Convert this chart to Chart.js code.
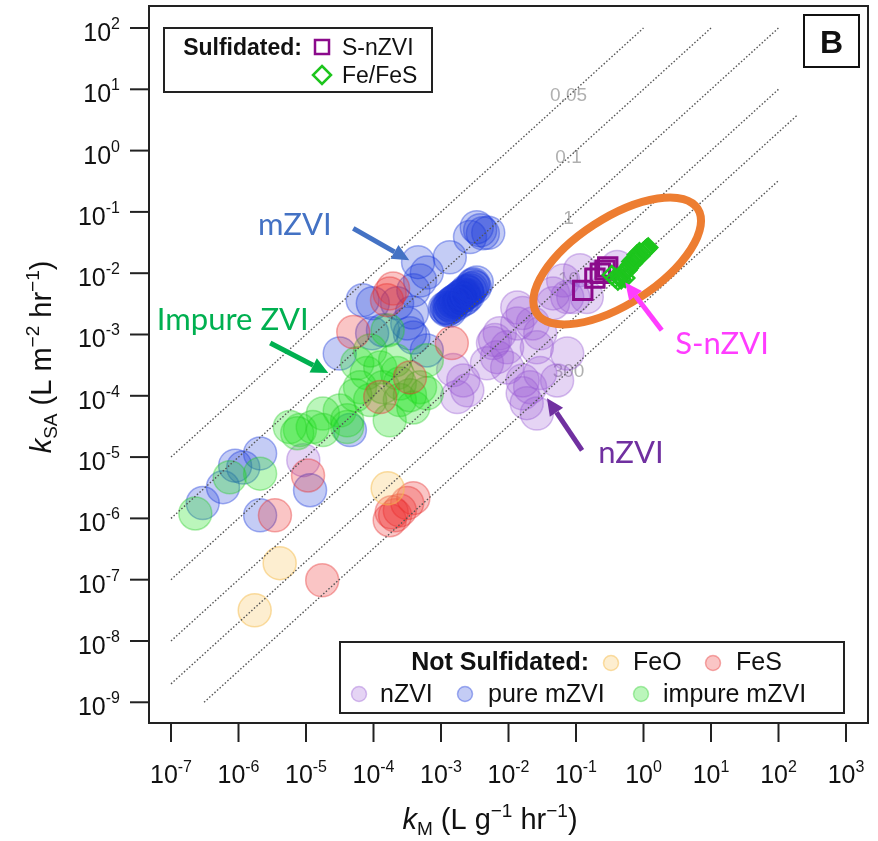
<!DOCTYPE html>
<html>
<head>
<meta charset="utf-8">
<script src="https://cdn.jsdelivr.net/npm/chart.js@4.4.1/dist/chart.umd.min.js"></script>
<style>
  html, body { margin: 0; padding: 0; background: #fff; }
  #wrap { width: 878px; height: 841px; }
</style>
</head>
<body>
<div id="wrap"><canvas id="chart" width="878" height="841"></canvas></div>
<script>
// all values are log10: [log kM (L g-1 hr-1), log kSA (L m-2 hr-1)]
const xTicks = [-7, -6, -5, -4, -3, -2, -1, 0, 1, 2, 3];
const yTicks = [-9, -8, -7, -6, -5, -4, -3, -2, -1, 0, 1, 2];

const nZVI = [
  [-5.04, -5.05], [-1.13, -2.39], [-1.34, -2.49], [-0.84, -2.39], [-1.79, -2.65], [-1.64, -2.82],
  [-1.53, -2.98], [-1.87, -2.82], [-2.13, -2.98], [-2.23, -3.14], [-2.02, -3.21], [-2.17, -3.37],
  [-2.32, -3.47], [-2.02, -3.54], [-1.58, -3.21], [-1.13, -3.31], [-2.67, -3.75], [-2.61, -3.91],
  [-2.82, -3.58], [-2.76, -4.02], [-1.79, -3.75], [-1.68, -3.86], [-1.79, -3.96], [-1.73, -4.12],
  [-1.58, -4.29], [-1.53, -3.63], [-1.28, -3.75], [-1.19, -2.12], [-0.94, -1.95], [-1.04, -2.39],
  [-1.34, -2.33], [-0.39, -1.90], [-1.87, -2.56], [-2.20, -3.09]
];
const pureMZVI = [
  [-2.47, -1.25], [-2.42, -1.30], [-2.38, -1.35], [-2.57, -1.41], [-2.30, -1.34], [-2.87, -1.74],
  [-3.34, -1.82], [-3.21, -1.99], [-3.31, -2.12], [-3.41, -2.28],
  [-2.91, -2.56], [-2.87, -2.52], [-2.82, -2.47], [-2.78, -2.44], [-2.72, -2.39], [-2.67, -2.36],
  [-2.61, -2.31], [-2.57, -2.28], [-2.53, -2.20], [-2.47, -2.15], [-2.87, -2.61], [-2.94, -2.57],
  [-2.64, -2.41], [-2.50, -2.23], [-2.89, -2.58], [-2.85, -2.50], [-2.80, -2.46], [-2.75, -2.42],
  [-2.70, -2.38], [-2.66, -2.34], [-2.62, -2.29], [-2.55, -2.25], [-2.52, -2.18], [-2.92, -2.60],
  [-2.84, -2.55], [-2.76, -2.49], [-2.68, -2.44], [-2.60, -2.36],
  [-4.01, -2.49], [-4.16, -2.44], [-3.65, -2.49], [-3.43, -2.64], [-3.50, -2.82], [-3.46, -2.98],
  [-4.02, -2.98], [-3.86, -2.93], [-3.41, -3.05], [-3.21, -3.26], [-4.50, -3.31], [-4.35, -4.56],
  [-5.68, -4.94], [-6.05, -5.14], [-5.93, -5.17], [-6.23, -5.49], [-6.53, -5.75], [-5.68, -5.95],
  [-4.94, -5.54]
];
const impureMZVI = [
  [-3.79, -2.93], [-4.24, -3.47], [-4.10, -3.63], [-3.90, -3.54], [-3.65, -3.63], [-4.20, -3.86],
  [-3.86, -3.86], [-3.61, -3.80], [-3.31, -3.86], [-3.61, -4.07], [-4.50, -4.24], [-4.75, -4.29],
  [-5.09, -4.56], [-4.90, -4.51], [-4.39, -4.40], [-3.76, -4.40], [-3.41, -4.19], [-3.21, -3.96],
  [-3.21, -3.42], [-5.24, -4.51], [-5.13, -4.61], [-4.75, -4.56], [-4.39, -4.51], [-5.68, -5.27],
  [-6.13, -5.33], [-6.64, -5.92], [-4.05, -3.26], [-3.68, -3.42], [-3.46, -3.99], [-4.05, -4.07],
  [-4.27, -3.99]
];
const feS = [
  [-3.80, -2.44], [-3.76, -2.33], [-3.71, -2.25], [-4.30, -2.96], [-2.84, -3.14], [-3.46, -3.70],
  [-3.90, -4.02], [-5.46, -5.95], [-4.97, -5.30], [-4.76, -7.01], [-3.41, -5.67], [-3.50, -5.75],
  [-3.61, -5.87], [-3.68, -5.95], [-3.76, -6.03], [-3.73, -5.90]
];
const feO = [[-3.79, -5.51], [-5.39, -6.73], [-5.76, -7.50]];
const sNZVI = [[-0.90, -2.28], [-0.72, -2.08], [-0.64, -2.00], [-0.57, -1.95], [-0.53, -1.90]];
const feFeS = [
  [-0.47, -2.03], [-0.38, -2.12], [-0.35, -2.05], [-0.30, -2.00], [-0.24, -1.95], [-0.20, -1.87],
  [-0.13, -1.79], [-0.10, -1.70], [-0.08, -1.74], [-0.02, -1.68], [0.02, -1.63], [0.04, -1.61],
  [0.07, -1.58], [-0.16, -1.84], [-0.27, -2.08], [-0.05, -1.72], [-0.42, -2.08], [-0.33, -2.10],
  [-0.28, -1.97], [-0.22, -1.92], [-0.18, -1.81], [-0.11, -1.76], [-0.06, -1.66], [0.00, -1.65],
  [0.05, -1.60], [-0.15, -1.78]
];

// dotted lines of constant kSA/kM (log offset), with their labels
const guideOffsets = [2, 1, 0, -1, -1.7, -2.49];
const guideStart = [-7, -7, -7, -7, -7, -6.51];
const guideEnd = [0, 1, 2, 2, 2.27, 2.01];
const guideLabels = ['0.05', '0.1', '1', '10', '', '300'];
const guideLabelX = -1.11;

// callouts
const calloutText = ['mZVI', 'Impure ZVI', 'S-nZVI', 'nZVI'];
const calloutColor = ['#4472C4', '#00B050', '#FF3DFF', '#7030A0'];
const calloutPos = [[-5.71, -1.38], [-7.21, -2.93], [0.47, -3.32], [-0.67, -5.10]];
const arrowFrom = [[-4.30, -1.27], [-5.53, -3.14], [0.27, -2.93], [-0.91, -4.89]];
const arrowTo = [[-3.47, -1.79], [-4.67, -3.63], [-0.27, -2.15], [-1.43, -4.04]];
const ellipseCenter = [-0.39, -1.80];

const SANS = '"Liberation Sans", Arial, sans-serif';
const CALLOUT = 'Lato, "Open Sans", sans-serif';

const FEO_FILL = 'rgba(250,200,100,0.3)', FEO_LINE = 'rgba(245,190,80,0.5)';
const FES_FILL = 'rgba(235,40,40,0.27)', FES_LINE = 'rgba(230,50,50,0.4)';
const IMP_FILL = 'rgba(30,225,30,0.3)', IMP_LINE = 'rgba(30,200,30,0.35)';
const PURE_FILL = 'rgba(20,50,215,0.25)', PURE_LINE = 'rgba(30,60,220,0.4)';
const NZVI_FILL = 'rgba(150,85,210,0.25)', NZVI_LINE = 'rgba(150,90,210,0.38)';

const pts = arr => arr.map(p => ({ x: p[0], y: p[1] }));

function circleSet(label, data, fill, border) {
  return {
    label, data: pts(data), pointStyle: 'circle', pointRadius: 16.5,
    backgroundColor: fill, borderColor: border, borderWidth: 1.5
  };
}

const guideSets = guideOffsets.map((off, i) => ({
  type: 'line',
  label: 'guide' + i,
  data: [{ x: guideStart[i], y: guideStart[i] + off }, { x: guideEnd[i], y: guideEnd[i] + off }],
  borderColor: '#555', borderWidth: 1.4, borderDash: [1.5, 2],
  pointRadius: 0, fill: false, tension: 0
}));

function drawArrow(ctx, x1, y1, x2, y2, color) {
  const a = Math.atan2(y2 - y1, x2 - x1);
  const head = 17, half = 8;
  const bx = x2 - head * Math.cos(a), by = y2 - head * Math.sin(a);
  ctx.strokeStyle = color; ctx.lineWidth = 5; ctx.lineCap = 'butt';
  ctx.beginPath(); ctx.moveTo(x1, y1); ctx.lineTo(bx, by); ctx.stroke();
  ctx.fillStyle = color;
  ctx.beginPath();
  ctx.moveTo(x2, y2);
  ctx.lineTo(bx + half * Math.sin(a), by - half * Math.cos(a));
  ctx.lineTo(bx - half * Math.sin(a), by + half * Math.cos(a));
  ctx.closePath(); ctx.fill();
}

// text made of pieces: [text, font, dy]
function pieceWidth(ctx, parts) {
  let w = 0;
  parts.forEach(p => { ctx.font = p[1]; w += ctx.measureText(p[0]).width; });
  return w;
}
function drawPieces(ctx, parts, x, y) {
  parts.forEach(p => {
    ctx.font = p[1];
    ctx.fillText(p[0], x, y + (p[2] || 0));
    x += ctx.measureText(p[0]).width;
  });
}

function legendCircle(ctx, x, y, fill, border) {
  ctx.beginPath(); ctx.arc(x, y, 7.5, 0, Math.PI * 2);
  ctx.fillStyle = fill; ctx.fill();
  ctx.strokeStyle = border; ctx.lineWidth = 1.5; ctx.stroke();
}

const decorations = {
  id: 'decorations',
  beforeDatasetsDraw(chart) {
    const { ctx, scales: { x, y } } = chart;
    ctx.save();
    ctx.font = '19px ' + SANS;
    ctx.fillStyle = '#b0b0b0';
    ctx.textAlign = 'center'; ctx.textBaseline = 'middle';
    guideLabels.forEach((t, i) => {
      if (!t) return;
      ctx.fillText(t, x.getPixelForValue(guideLabelX), y.getPixelForValue(guideLabelX + guideOffsets[i]));
    });
    ctx.restore();
  },
  afterDatasetsDraw(chart) {
    const { ctx, scales: { x, y } } = chart;
    ctx.save();
    // orange ellipse
    ctx.strokeStyle = '#ED7D31'; ctx.lineWidth = 8;
    ctx.beginPath();
    ctx.ellipse(x.getPixelForValue(ellipseCenter[0]), y.getPixelForValue(ellipseCenter[1]), 96, 43, -33 * Math.PI / 180, 0, Math.PI * 2);
    ctx.stroke();
    // callouts
    calloutText.forEach((t, i) => {
      drawArrow(ctx, x.getPixelForValue(arrowFrom[i][0]), y.getPixelForValue(arrowFrom[i][1]),
        x.getPixelForValue(arrowTo[i][0]), y.getPixelForValue(arrowTo[i][1]), calloutColor[i]);
      ctx.font = '31px ' + CALLOUT;
      ctx.fillStyle = calloutColor[i];
      ctx.textAlign = 'left'; ctx.textBaseline = 'alphabetic';
      ctx.fillText(t, x.getPixelForValue(calloutPos[i][0]), y.getPixelForValue(calloutPos[i][1]));
    });
    ctx.restore();
  },
  afterDraw(chart) {
    const { ctx, chartArea: a, scales: { x, y } } = chart;
    ctx.save();
    ctx.strokeStyle = '#222'; ctx.lineWidth = 2;
    ctx.strokeRect(a.left, a.top, a.right - a.left, a.bottom - a.top);

    // ticks and power-of-ten labels
    ctx.fillStyle = '#111'; ctx.textAlign = 'left'; ctx.textBaseline = 'alphabetic';
    const base = '25px ' + SANS, sup = '16px ' + SANS;
    xTicks.forEach(v => {
      const px = x.getPixelForValue(v);
      ctx.beginPath(); ctx.moveTo(px, a.bottom); ctx.lineTo(px, a.bottom + 19); ctx.stroke();
      const parts = [['10', base, 0], [String(v), sup, -11]];
      const w = pieceWidth(ctx, parts);
      drawPieces(ctx, parts, px - w / 2, 783);
    });
    yTicks.forEach(v => {
      const py = y.getPixelForValue(v);
      ctx.beginPath(); ctx.moveTo(a.left - 19, py); ctx.lineTo(a.left, py); ctx.stroke();
      const parts = [['10', base, 0], [String(v), sup, -12]];
      const w = pieceWidth(ctx, parts);
      drawPieces(ctx, parts, a.left - 29 - w, py + 13);
    });

    // axis titles
    const tf = '29px ' + SANS, tfi = 'italic 29px ' + SANS, ts = '19px ' + SANS;
    const xTitle = [['k', tfi, 0], ['M', ts, 6], [' (L g', tf, 0], ['\u22121', ts, -12], [' hr', tf, 0], ['\u22121', ts, -12], [')', tf, 0]];
    const xw = pieceWidth(ctx, xTitle);
    drawPieces(ctx, xTitle, 490 - xw / 2, 829);
    const yTitle = [['k', tfi, 0], ['SA', ts, 6], [' (L m', tf, 0], ['\u22122', ts, -12], [' hr', tf, 0], ['\u22121', ts, -12], [')', tf, 0]];
    const yw = pieceWidth(ctx, yTitle);
    ctx.translate(51, 357); ctx.rotate(-Math.PI / 2);
    drawPieces(ctx, yTitle, -yw / 2, 0);
    ctx.setTransform(1, 0, 0, 1, 0, 0);

    // sulfidated legend
    ctx.lineWidth = 2; ctx.strokeStyle = '#222';
    ctx.strokeRect(164, 28, 268, 64);
    ctx.fillStyle = '#111';
    ctx.font = 'bold 23px ' + SANS; ctx.textAlign = 'right';
    ctx.fillText('Sulfidated:', 302, 55);
    ctx.font = '23px ' + SANS; ctx.textAlign = 'left';
    ctx.fillText('S-nZVI', 342, 55);
    ctx.fillText('Fe/FeS', 342, 83);
    ctx.strokeStyle = '#8B0A8B'; ctx.lineWidth = 2.5;
    ctx.strokeRect(315, 40, 14, 14);
    ctx.strokeStyle = '#1DC51D';
    ctx.beginPath(); ctx.moveTo(322, 66); ctx.lineTo(331, 75); ctx.lineTo(322, 84); ctx.lineTo(313, 75); ctx.closePath(); ctx.stroke();

    // not sulfidated legend
    ctx.strokeStyle = '#222'; ctx.lineWidth = 2;
    ctx.strokeRect(340, 642, 504, 71);
    ctx.fillStyle = '#111';
    ctx.font = 'bold 25px ' + SANS; ctx.textAlign = 'right';
    ctx.fillText('Not Sulfidated:', 589, 670);
    ctx.font = '25px ' + SANS; ctx.textAlign = 'left';
    ctx.fillText('FeO', 633, 670);
    ctx.fillText('FeS', 736, 670);
    ctx.fillText('nZVI', 380, 702);
    ctx.fillText('pure mZVI', 488, 702);
    ctx.fillText('impure mZVI', 663, 702);
    legendCircle(ctx, 611, 663, FEO_FILL, FEO_LINE);
    legendCircle(ctx, 713, 663, FES_FILL, FES_LINE);
    legendCircle(ctx, 359, 694, NZVI_FILL, NZVI_LINE);
    legendCircle(ctx, 465, 694, PURE_FILL, PURE_LINE);
    legendCircle(ctx, 641, 694, IMP_FILL, IMP_LINE);

    // panel letter
    ctx.strokeStyle = '#111'; ctx.lineWidth = 2;
    ctx.strokeRect(804, 15, 55, 52);
    ctx.fillStyle = '#111'; ctx.font = 'bold 32px ' + SANS; ctx.textAlign = 'center';
    ctx.fillText('B', 831.5, 53);
    ctx.restore();
  }
};

new Chart(document.getElementById('chart'), {
  type: 'scatter',
  data: {
    datasets: [
      {
        label: 'Fe/FeS', data: pts(feFeS), pointStyle: 'rectRot', pointRadius: 9,
        backgroundColor: 'rgba(0,0,0,0)', borderColor: '#1DC51D', borderWidth: 2.5
      },
      {
        label: 'S-nZVI', data: pts(sNZVI), pointStyle: 'rect', pointRadius: 13,
        backgroundColor: 'rgba(0,0,0,0)', borderColor: '#8B0A8B', borderWidth: 3
      },
      ...guideSets,
      circleSet('FeO', feO, FEO_FILL, FEO_LINE),
      circleSet('FeS', feS, FES_FILL, FES_LINE),
      circleSet('impure mZVI', impureMZVI, IMP_FILL, IMP_LINE),
      circleSet('pure mZVI', pureMZVI, PURE_FILL, PURE_LINE),
      circleSet('nZVI', nZVI, NZVI_FILL, NZVI_LINE)
    ]
  },
  options: {
    responsive: false,
    animation: false,
    events: [],
    layout: { autoPadding: false, padding: { left: 149, top: 6, right: 10, bottom: 118 } },
    plugins: { legend: { display: false }, tooltip: { enabled: false } },
    scales: {
      x: { type: 'linear', min: -7.326, max: 3.326, display: false },
      y: { type: 'linear', min: -9.338, max: 2.359, display: false }
    }
  },
  plugins: [decorations]
});
</script>
</body>
</html>
